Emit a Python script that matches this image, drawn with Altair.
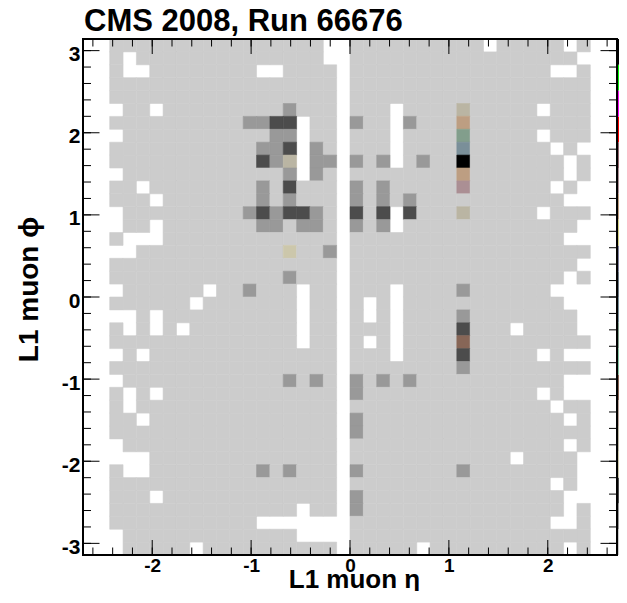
import math
import pandas as pd
import altair as alt

title_text = "CMS 2008, Run 66676"
x_title = "L1 muon η"
y_title = "L1 muon ϕ"

eta_range = [-2.7, 2.7]
phi_range = [-math.pi, math.pi]
n_eta = 40
n_phi = 40

# one string per phi bin (first = highest phi), one char per eta bin
# '.' = empty bin, '1'-'9','a'-'k' = colour level 1..20
counts = [
    "..11111111 11111111.. 1111111111 .11111.1..",
    "..1.111111 11111111.. 1111111111 1111111...",
    "..1..11111 111..1111. 1111111111 11111..1..",
    "..11111111 111111111. 1111111111 11111111..",
    "..11111111 111111111. 1111111111 11111111..",
    "...11.1111 111112111. 111.111151 1111.111..",
    "..11111111 112233.11. 211.2111e1 11111111..",
    "...1111111 111122.11. 111.111191 1111.111..",
    "..11111111 111223.21. 111.1111a1 11111.1...",
    "..11111111 111325.22. 212.1211k1 111111.1..",
    "...1111111 111112.21. 11111111e1 111111.1..",
    "..11.11111 111213111. 21211111f1 11111.1...",
    "..111.1111 111212111. 2121211111 111111....",
    "...1111111 112323321. 313.311151 1111.111..",
    "...11.1111 111221221. 212.111111 1111111...",
    "..1...1111 111111111. 1111111111 111111....",
    "....111111 111114112. 1111111111 11111111..",
    "..11111111 111111111. 1111111111 1111111...",
    "..11111111 111112111. 1111111111 111111.1..",
    "...111111. 112111.11. 111.111121 11111.....",
    "..111111.1 111111.11. 1.1.111111 111111....",
    "....1.1111 111111.11. 1.1.111121 1111111...",
    "..1.1.1.11 111111.11. 111.111131 11.1111...",
    "..11111111 111111.11. 1.1.111171 11111111..",
    "...1.11111 111111111. 111.111131 1111.1....",
    "..11111111 111111111. 1111111121 11111111..",
    "...1111111 111112121. 2121211111 111111....",
    "..1.1.1111 111111111. 2111111111 1111.1....",
    "..1.111111 111111111. 1111111111 11111.11..",
    "..11.11111 111111111. 2111111111 111111.1..",
    "..11111111 111111111. 2111111111 11111111..",
    "...1111111 111111111. 1111111111 111111.1..",
    ".....11111 111111111. 1111111111 11.1111...",
    "..1..11111 111212111. 2111111121 1111111...",
    "..11111111 111111111. 1111111111 11111.1...",
    "..111.1111 111111111. 2111111111 111111....",
    "..11111111 111111.11. 2111111111 111111.1..",
    "..11111111 111....... 1111111111 11111..1..",
    "...1111111 111111.... 1111111111 11111111..",
    "...11111.1 111111111. 11111.1111 111111.1..",
]

levels = list(range(1, 21))
palette = [
    "#cccccc", "#999999", "#4c4c4c", "#ccc7ab", "#bab5a3",
    "#b8a39b", "#876657", "#85c2a3", "#829e8c", "#7a8f99",
    "#6e7a85", "#80809c", "#d4cf87", "#bd9e82", "#ab8f94",
    "#946970", "#ff0000", "#ff00ff", "#00ff00", "#000000",
]

eta_major = [-2, -1, 0, 1, 2]
phi_major = [-3, -2, -1, 0, 1, 2, 3]
eta_minor = [round(-2.6 + 0.2 * i, 1) for i in range(27)]
phi_minor = [round(-3.0 + 0.2 * i, 1) for i in range(31)]

W, H = 534, 516
FONT = "Liberation Sans"

deta = (eta_range[1] - eta_range[0]) / n_eta
dphi = (phi_range[1] - phi_range[0]) / n_phi
rows = []
for r, line in enumerate(counts):
    s = line.replace(" ", "")
    assert len(s) == n_eta, (r, len(s))
    for c, ch in enumerate(s):
        if ch == ".":
            continue
        hi = phi_range[1] - r * dphi
        rows.append({
            "eta_lo": eta_range[0] + c * deta,
            "eta_hi": eta_range[0] + (c + 1) * deta,
            "phi_lo": hi - dphi,
            "phi_hi": hi,
            "level": int(ch, 36),
        })
cells = pd.DataFrame(rows)

# colour-bar segments span the full phi height, one per level
seg = (phi_range[1] - phi_range[0]) / len(levels)
pal_df = pd.DataFrame({
    "level": levels,
    "lo": [phi_range[0] + (l - 1) * seg for l in levels],
    "hi": [phi_range[0] + l * seg for l in levels],
})

xscale = alt.Scale(domain=eta_range, nice=False, zero=False)
yscale = alt.Scale(domain=phi_range, nice=False, zero=False)
cscale = alt.Scale(domain=levels, range=palette)

xaxis = alt.Axis(
    orient="bottom",
    values=eta_major, labelExpr="'' + datum.value", ticks=False,
    domain=False, grid=False, labelFont=FONT, labelFontSize=19,
    labelFontWeight="bold", labelColor="black", labelPadding=1,
    title=x_title, titleFont=FONT, titleFontSize=26, titleFontWeight="bold",
    titleColor="black", titleX=271, titleY=32, titleAlign="center",
    titleBaseline="alphabetic",
)
yaxis = alt.Axis(
    orient="left",
    values=phi_major, labelExpr="'' + datum.value", ticks=False,
    domain=False, grid=False, labelFont=FONT, labelFontSize=21,
    labelFontWeight="bold", labelColor="black", labelPadding=3,
    labelBaseline="middle", labelOffset=4,
    title=y_title, titleFont=FONT, titleFontSize=28, titleFontWeight="bold",
    titleColor="black", titleX=-46, titleY=250, titleAngle=270,
    titleAlign="center", titleBaseline="alphabetic",
)

heat = alt.Chart(cells).mark_rect(strokeWidth=0.6).encode(
    x=alt.X("eta_lo:Q", scale=xscale, axis=xaxis),
    x2="eta_hi:Q",
    y=alt.Y("phi_lo:Q", scale=yscale, axis=yaxis),
    y2="phi_hi:Q",
    color=alt.Color("level:O", scale=cscale, legend=None),
    stroke=alt.Stroke("level:O", scale=cscale, legend=None),
)

pal = alt.Chart(pal_df).mark_rect().encode(
    x=alt.value(W + 1), x2=alt.value(W + 6),
    y=alt.Y("lo:Q"), y2="hi:Q",
    color=alt.Color("level:O", scale=cscale, legend=None),
)


def xticks(vals, length, top):
    df = pd.DataFrame({"v": vals})
    y0 = 0 if top else H
    y1 = length if top else H - length
    return alt.Chart(df).mark_rule(color="black", strokeWidth=1).encode(
        x=alt.X("v:Q"), y=alt.value(y0), y2=alt.value(y1),
    )


def yticks(vals, length, right):
    df = pd.DataFrame({"v": vals})
    x0 = W if right else 0
    x1 = W - length if right else length
    return alt.Chart(df).mark_rule(color="black", strokeWidth=1).encode(
        y=alt.Y("v:Q"), x=alt.value(x0), x2=alt.value(x1),
    )


frame = alt.Chart(pd.DataFrame({"a": [0]})).mark_rect(
    fillOpacity=0, stroke="black", strokeWidth=2
).encode(x=alt.value(0), x2=alt.value(W), y=alt.value(0), y2=alt.value(H))

title = alt.Chart(pd.DataFrame({"t": [title_text]})).mark_text(
    align="left", baseline="alphabetic", font=FONT, fontSize=31,
    fontWeight="bold", color="black",
).encode(text="t:N", x=alt.value(1), y=alt.value(-8))

chart = alt.layer(
    heat, pal,
    xticks(eta_minor, 7.5, False), xticks(eta_major, 15, False),
    xticks(eta_minor, 7.5, True), xticks(eta_major, 15, True),
    yticks(phi_minor, 8, False), yticks(phi_major, 16.5, False),
    yticks(phi_minor, 8, True), yticks(phi_major, 16.5, True),
    frame, title,
).properties(
    width=W, height=H,
    padding={"left": 75, "top": 31, "right": 2, "bottom": 36},
    autosize=alt.AutoSizeParams(type="none"),
).configure_view(strokeWidth=0)

chart.save("out.html", embed_options={"renderer": "svg", "actions": False})
